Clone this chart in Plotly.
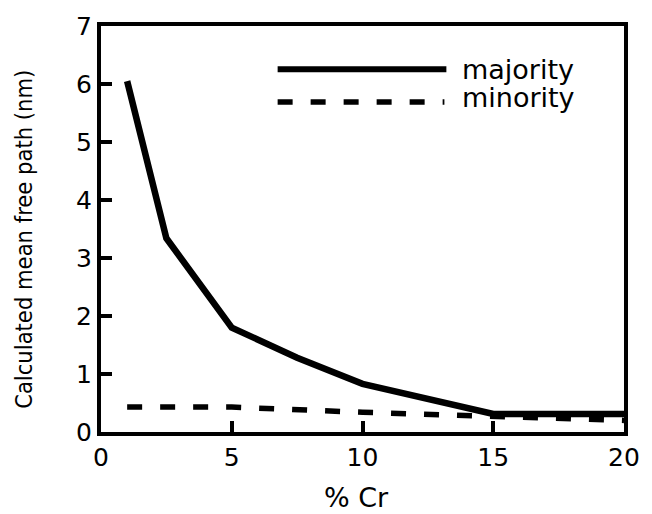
import plotly.graph_objects as go

# ---- data ----
cr_majority = [1, 2.5, 5, 7.5, 10, 15, 20]
mfp_majority = [6.05, 3.34, 1.80, 1.28, 0.83, 0.31, 0.31]

cr_minority = [1, 5, 10, 15, 20]
mfp_minority = [0.43, 0.43, 0.34, 0.26, 0.20]

x_ticks = [0, 5, 10, 15, 20]
y_ticks = [0, 1, 2, 3, 4, 5, 6, 7]

x_title = "% Cr"
y_title = "Calculated mean free path (nm)"
legend_names = ["majority", "minority"]

# ---- layout constants ----
W, H = 652, 514
ML, MR, MT, MB = 101, 21, 20, 82
TICK_FONT = dict(family="DejaVu Sans, Liberation Sans, Arial", size=25, color="black")
TXT_FONT = dict(family="DejaVu Sans, Liberation Sans, Arial", size=27, color="black")
LEG_FONT = dict(family="DejaVu Sans, Liberation Sans, Arial", size=27, color="black")
YT_FONT = dict(family="DejaVu Sans Condensed, Liberation Sans Narrow, Liberation Sans",
               size=23.5, color="black")


def px_x(p):
    return (p - ML) / (W - ML - MR)


def px_y(p):
    return 1 - (p - MT) / (H - MT - MB)


fig = go.Figure()
fig.add_trace(go.Scatter(x=cr_majority, y=mfp_majority, mode="lines",
                         line=dict(color="black", width=6.5), name=legend_names[0],
                         showlegend=False))
fig.add_trace(go.Scatter(x=cr_minority, y=mfp_minority, mode="lines",
                         line=dict(color="black", width=5.5, dash="15px,18px"),
                         name=legend_names[1], showlegend=False))

# hand-drawn legend (long sample lines as in the reference)
fig.add_shape(type="line", xref="paper", yref="paper",
              x0=px_x(280), x1=px_x(451), y0=px_y(64), y1=px_y(64),
              line=dict(color="black", width=6))
fig.add_shape(type="line", xref="paper", yref="paper",
              x0=px_x(280), x1=px_x(449), y0=px_y(97), y1=px_y(97),
              line=dict(color="black", width=5.5, dash="15px,18px"))
fig.add_annotation(x=px_x(465), y=px_y(64), xref="paper", yref="paper",
                   text=legend_names[0], showarrow=False, xanchor="left",
                   yanchor="middle", font=LEG_FONT)
fig.add_annotation(x=px_x(465), y=px_y(93), xref="paper", yref="paper",
                   text=legend_names[1], showarrow=False, xanchor="left",
                   yanchor="middle", font=LEG_FONT)

# axis titles as annotations for exact placement
fig.add_annotation(x=px_x(360), y=px_y(498), xref="paper", yref="paper",
                   text=x_title, showarrow=False, xanchor="center",
                   yanchor="middle", font=TXT_FONT)
fig.add_annotation(x=px_x(23), y=px_y(237), xref="paper", yref="paper",
                   text=y_title, showarrow=False, textangle=-90,
                   xanchor="center", yanchor="middle", font=YT_FONT)

axis_common = dict(showgrid=False, zeroline=False, showline=True, linecolor="black",
                   linewidth=4, mirror=True, ticks="inside", tickcolor="black",
                   tickwidth=3.5, ticklen=11, tickfont=TICK_FONT)

fig.update_xaxes(range=[0, 20], tickvals=x_ticks, ticktext=[str(v) for v in x_ticks],
                 **axis_common)
fig.update_yaxes(range=[0, 7], tickvals=y_ticks, ticktext=[str(v) for v in y_ticks],
                 **axis_common)

fig.update_layout(width=W, height=H, margin=dict(l=ML, r=MR, t=MT, b=MB),
                  paper_bgcolor="white", plot_bgcolor="white", showlegend=False)

fig.write_html("out.html")
